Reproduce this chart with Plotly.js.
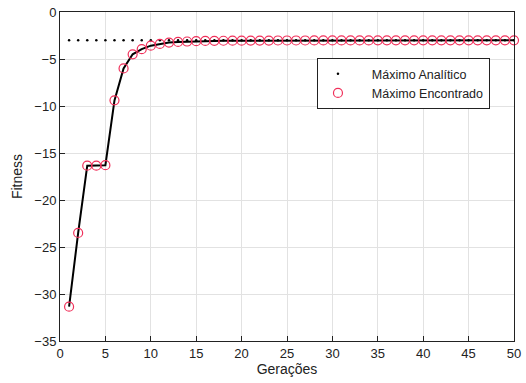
<!DOCTYPE html>
<html><head><meta charset="utf-8">
<script src="https://cdn.plot.ly/plotly-3.0.1.min.js"></script>
<style>html,body{margin:0;padding:0;background:#fff}#chart{width:526px;height:383px}</style>
</head><body><div id="chart"></div>
<script>
const generations = Array.from({length: 50}, (_, i) => i + 1);
const analyticMax = -3.0;
const foundMax = [-31.35, -23.5, -16.35, -16.35, -16.3, -9.4, -6.0, -4.5, -3.95, -3.58,
  -3.4, -3.25, -3.18, -3.14, -3.1, -3.08, -3.07, -3.06, -3.05, -3.05,
  -3.04, -3.04, -3.04, -3.03, -3.03, -3.03, -3.03, -3.02, -3.02, -3.02,
  -3.02, -3.02, -3.02, -3.02, -3.01, -3.01, -3.01, -3.01, -3.01, -3.01,
  -3.01, -3.01, -3.01, -3.01, -3.01, -3.01, -3.01, -3.01, -3.01, -3.01];
const analyticLine = generations.map(() => analyticMax);
const seriesNames = ['Máximo Analítico', 'Máximo Encontrado'];

const font = 'Liberation Sans, Arial, sans-serif';
const pad = '\u00a0\u00a0\u00a0\u00a0';
const traces = [
  {x: generations, y: foundMax, mode: 'lines', line: {color: '#000', width: 2}, showlegend: false, hoverinfo: 'skip'},
  {x: generations, y: analyticLine, mode: 'markers', name: pad + seriesNames[0],
   marker: {color: '#000', size: 2.5, symbol: 'circle'}},
  {x: generations, y: foundMax, mode: 'markers', name: pad + seriesNames[1], cliponaxis: false,
   marker: {color: '#f0305a', size: 9, symbol: 'circle-open', line: {color: '#f0305a', width: 1.2}}}
];
const axisCommon = {
  showline: true, mirror: true, linecolor: '#222', linewidth: 1,
  ticks: 'inside', ticklen: 5, tickcolor: '#222',
  showgrid: true, gridcolor: '#e2e2e2', gridwidth: 1, zeroline: false,
  tickfont: {family: font, size: 13, color: '#222'}
};
const layout = {
  width: 526, height: 383,
  margin: {l: 60, r: 12, t: 12, b: 42},
  paper_bgcolor: '#fff', plot_bgcolor: '#fff',
  font: {family: font, color: '#222'},
  xaxis: Object.assign({}, axisCommon, {range: [0, 50], dtick: 5, tick0: 0,
    title: {text: 'Gerações', font: {family: font, size: 14, color: '#222'}, standoff: 4}}),
  yaxis: Object.assign({}, axisCommon, {range: [-35, 0], dtick: 5, tick0: 0,
    title: {text: 'Fitness', font: {family: font, size: 14, color: '#222'}, standoff: 8}}),
  legend: {x: 0.566, y: 0.86, xanchor: 'left', yanchor: 'top',
    bgcolor: '#fff', bordercolor: '#222', borderwidth: 1,
    font: {family: font, size: 12.5, color: '#222'}, itemwidth: 30, tracegroupgap: 0},
  showlegend: true
};
Plotly.newPlot('chart', traces, layout, {displayModeBar: false, staticPlot: true});
</script></body></html>
